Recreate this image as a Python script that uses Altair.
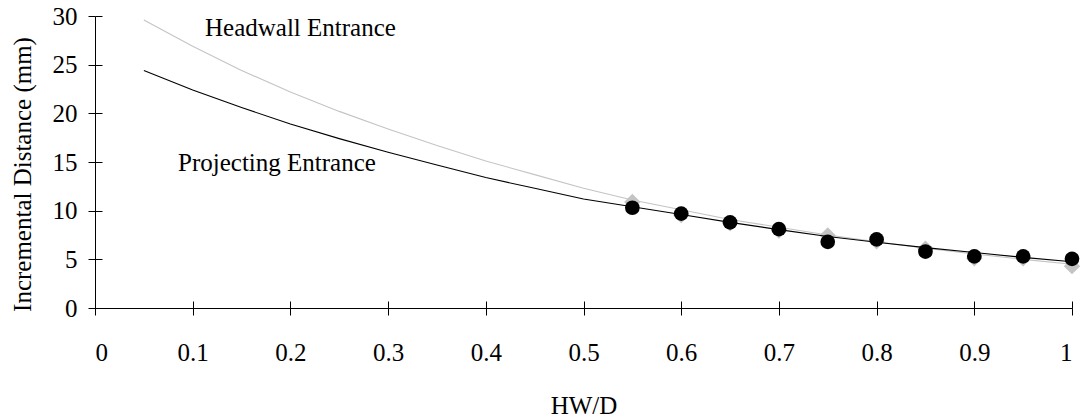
import altair as alt
import pandas as pd

# HW/D positions for the two fitted curves
curve_x = [0.05, 0.10, 0.15, 0.20, 0.25, 0.30, 0.35, 0.40, 0.45, 0.50,
           0.55, 0.60, 0.65, 0.70, 0.75, 0.80, 0.85, 0.90, 0.95, 1.00]
headwall_curve = [29.6, 26.9, 24.4, 22.2, 20.2, 18.4, 16.7, 15.1, 13.7, 12.3,
                  11.1, 10.1, 9.1, 8.3, 7.5, 6.8, 6.15, 5.55, 5.0, 4.5]
projecting_curve = [24.4, 22.4, 20.6, 18.9, 17.4, 16.0, 14.7, 13.4, 12.3, 11.2,
                    10.4, 9.6, 8.8, 8.05, 7.35, 6.75, 6.2, 5.7, 5.2, 4.75]

# Measured points
meas_x = [0.55, 0.60, 0.65, 0.70, 0.75, 0.80, 0.85, 0.90, 0.95, 1.00]
headwall_meas = [10.9, 9.55, 8.7, 7.95, 7.45, 6.85, 6.1, 5.1, 5.1, 4.3]
projecting_meas = [10.3, 9.7, 8.8, 8.1, 6.8, 7.05, 5.8, 5.3, 5.3, 5.05]

# Curve labels
label_text = ["Headwall Entrance", "Projecting Entrance"]
label_x = [0.1126, 0.085]
label_y = [27.95, 14.1]

x_ticks = [0, 0.1, 0.2, 0.3, 0.4, 0.5, 0.6, 0.7, 0.8, 0.9, 1.0]
y_ticks = [0, 5, 10, 15, 20, 25, 30]

FONT = "Liberation Serif"
FS = 25
W, H = 977, 292

hw_df = pd.DataFrame({"x": curve_x, "y": headwall_curve})
pr_df = pd.DataFrame({"x": curve_x, "y": projecting_curve})
hw_pts = pd.DataFrame({"x": meas_x, "y": headwall_meas})
pr_pts = pd.DataFrame({"x": meas_x, "y": projecting_meas})
lab_df = pd.DataFrame({"t": label_text, "x": label_x, "y": label_y})

xs = alt.Scale(domain=[0, 1], nice=False, zero=False)
ys = alt.Scale(domain=[0, 30], nice=False)

x_axis = alt.Axis(values=x_ticks, format=".1~f", tickSize=7, tickColor="black",
                  domainColor="black", labelFont=FONT, labelFontSize=FS,
                  labelColor="black", labelPadding=25, grid=False,
                  title="HW/D", titleFont=FONT, titleFontSize=FS,
                  titleFontWeight="normal", titleColor="black",
                  titleY=97, titleBaseline="middle")
y_axis = alt.Axis(values=y_ticks, tickSize=7, tickColor="black",
                  domainColor="black", labelFont=FONT, labelFontSize=FS,
                  labelColor="black", labelPadding=11, grid=False,
                  title="Incremental Distance (mm)", titleFont=FONT,
                  titleFontSize=FS, titleFontWeight="normal", titleColor="black",
                  titleX=-73, titleY=158, titleAlign="center",
                  titleBaseline="middle", titleAngle=270)

# Inner half of each tick, drawn by a second pair of axes
x_inner = alt.Axis(orient="top", offset=-H, values=x_ticks, tickSize=7,
                   tickColor="black", labels=False, domain=False, grid=False,
                   title=None)
y_inner = alt.Axis(orient="right", offset=-W, values=y_ticks, tickSize=7,
                   tickColor="black", labels=False, domain=False, grid=False,
                   title=None)

hw_line = alt.Chart(hw_df).mark_line(color="#c4c4c4", strokeWidth=1.1).encode(
    x=alt.X("x:Q", scale=xs, axis=x_axis),
    y=alt.Y("y:Q", scale=ys, axis=y_axis),
)
hw_marks = alt.Chart(hw_pts).mark_point(shape="diamond", filled=True, size=270,
                                        color="#c4c4c4", opacity=1).encode(
    x=alt.X("x:Q", scale=xs, axis=None),
    y=alt.Y("y:Q", scale=ys, axis=None),
)
pr_line = alt.Chart(pr_df).mark_line(color="black", strokeWidth=1.1).encode(
    x=alt.X("x:Q", scale=xs, axis=None),
    y=alt.Y("y:Q", scale=ys, axis=None),
)
pr_marks = alt.Chart(pr_pts).mark_circle(size=215, color="black", opacity=1).encode(
    x=alt.X("x:Q", scale=xs, axis=x_inner),
    y=alt.Y("y:Q", scale=ys, axis=y_inner),
)
labels = alt.Chart(lab_df).mark_text(align="left", baseline="alphabetic",
                                     font=FONT, fontSize=FS, color="black").encode(
    x=alt.X("x:Q", scale=xs, axis=None),
    y=alt.Y("y:Q", scale=ys, axis=None),
    text="t:N",
)

chart = alt.layer(hw_line, hw_marks, pr_line, pr_marks, labels).resolve_axis(
    x="independent", y="independent"
).properties(
    width=W, height=H,
    autosize=alt.AutoSizeParams(type="none"),
    padding={"left": 95, "top": 16, "right": 11, "bottom": 109},
    background="white",
).configure_view(stroke=None)

chart.save("out.html", embed_options={"renderer": "svg", "actions": False})
